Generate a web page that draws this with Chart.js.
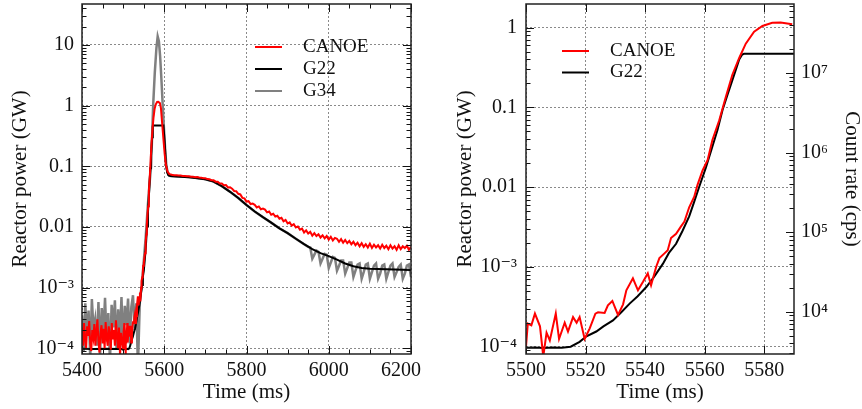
<!DOCTYPE html>
<html>
<head>
<meta charset="utf-8">
<title>Reactor power</title>
<script src="https://cdn.jsdelivr.net/npm/chart.js@4/dist/chart.umd.min.js"></script>
<style>
  html, body { margin: 0; padding: 0; background: #fff; }
  #wrap { position: relative; width: 862px; height: 409px; }
  canvas { position: absolute; top: 0; }
</style>
</head>
<body>
<div id="wrap">
  <canvas id="leftChart" width="430" height="409" style="left:0"></canvas>
  <canvas id="rightChart" width="432" height="409" style="left:430px"></canvas>
</div>
<script>
// ---- data (time in ms, power in GW) ----

// CANOE before the rise, 2.5 ms spacing from 5400
const canoeEarlyStart = 5400, canoeEarlyStep = 2.5;
const canoeEarlyP = [2.2e-4, 1.1e-4, 2.6e-4, 1.4e-4, 1.0e-4, 2.3e-4, 1.6e-4, 2.8e-4, 1.2e-4, 9e-5,
  2.0e-4, 1.5e-4, 2.5e-4, 1.1e-4, 1.9e-4, 3.0e-4, 1.3e-4, 8.5e-5, 1.8e-4, 2.4e-4,
  1.2e-4, 2.1e-4, 1.0e-4, 2.7e-4, 1.5e-4, 1.1e-4, 2.3e-4, 1.7e-4, 9.5e-5, 2.6e-4,
  1.4e-4, 2.0e-4, 1.1e-4, 2.9e-4, 1.6e-4, 1.0e-4, 2.2e-4, 7.5e-5, 1.8e-4, 1.3e-4];

// CANOE around the rise (right panel uses these too)
const canoeRiseT = [5500.0, 5500.6, 5501.8, 5503.0, 5504.7, 5505.8, 5506.9, 5508.0, 5510.0, 5511.1,
  5513.0, 5514.1, 5515.8, 5517.0, 5518.0, 5519.7, 5521.4, 5523.3, 5524.2, 5526.4,
  5527.5, 5529.0, 5530.9, 5532.6, 5533.7, 5535.9, 5537.6, 5539.3, 5540.9, 5542.0,
  5543.7, 5544.8, 5546.5, 5547.6, 5548.7, 5550.4, 5552.0, 5553.2, 5554.8, 5556.5,
  5557.6, 5559.3, 5561.0, 5562.6, 5564.9, 5567.1, 5569.3, 5571.6, 5573.8, 5576.6,
  5579.4, 5582.7, 5585.5, 5589.4];
const canoeRiseP = [1.0e-4, 1.95e-4, 1.85e-4, 2.6e-4, 1.8e-4, 7.5e-5, 1.5e-4, 1.2e-4, 2.6e-4, 1.25e-4,
  2.0e-4, 1.55e-4, 2.35e-4, 2.0e-4, 2.35e-4, 1.25e-4, 1.7e-4, 2.6e-4, 2.7e-4, 2.65e-4,
  3.3e-4, 3.75e-4, 2.5e-4, 3.4e-4, 5.1e-4, 7.2e-4, 5.1e-4, 6.5e-4, 8.3e-4, 5.9e-4,
  1.0e-3, 1.29e-3, 1.48e-3, 1.62e-3, 2.3e-3, 2.6e-3, 3.2e-3, 3.7e-3, 5.6e-3, 7.6e-3,
  0.0107, 0.0162, 0.0219, 0.039, 0.069, 0.135, 0.257, 0.417, 0.63, 0.89,
  1.05, 1.15, 1.16, 1.10];

const canoeFallT = [5592, 5595, 5598, 5601, 5604, 5608, 5612, 5616];
const canoeFallP = [0.9, 0.5, 0.28, 0.16, 0.105, 0.082, 0.075, 0.073];

// CANOE tail, 5 ms spacing from 5620
const canoeTailStart = 5620, canoeTailStep = 5;
const canoeTailP = [
  0.0722, 0.0713, 0.0711, 0.0703, 0.0704, 0.0695, 0.0694, 0.0684, 0.0683, 0.0675,
  0.0674, 0.0663, 0.0664, 0.0652, 0.0650, 0.0636, 0.0634, 0.0616, 0.0611, 0.0590,
  0.0588, 0.0558, 0.0556, 0.0519, 0.0522, 0.0488, 0.0490, 0.0447, 0.0451, 0.0428,
  0.0392, 0.0388, 0.0352, 0.0344, 0.0302, 0.0296, 0.0262, 0.0266, 0.0239, 0.0243,
  0.0232, 0.0210, 0.0218, 0.0196, 0.0201, 0.0193, 0.0174, 0.0180, 0.0159, 0.0165,
  0.0148, 0.0153, 0.0137, 0.0142, 0.0124, 0.0131, 0.0114, 0.0119, 0.0105, 0.0111,
  0.0098, 0.0102, 0.0090, 0.0094, 0.0081, 0.0088, 0.0078, 0.0083, 0.0072, 0.0079,
  0.0071, 0.0076, 0.0067, 0.0073, 0.0065, 0.0071, 0.0062, 0.0069, 0.0060, 0.0066,
  0.0064, 0.0057, 0.0063, 0.0055, 0.0061, 0.0054, 0.0059, 0.0052, 0.0057, 0.0050,
  0.0055, 0.0048, 0.0054, 0.0047, 0.0052, 0.0046, 0.0053, 0.0045, 0.0051, 0.0046,
  0.0050, 0.0044, 0.0051, 0.0045, 0.0049, 0.0043, 0.0050, 0.0044, 0.0048, 0.0042,
  0.0050, 0.0043, 0.0048, 0.0045, 0.0049, 0.0042, 0.0047];

// G22
const g22EarlyT = [5400, 5430, 5460, 5490];
const g22EarlyP = [9.8e-5, 9.7e-5, 9.8e-5, 9.7e-5];
const g22RiseT = [5500, 5503, 5506, 5509, 5512, 5515, 5518, 5520.3, 5523.6, 5526,
  5529.2, 5532, 5534.8, 5537.5, 5540.4, 5543, 5546, 5548, 5550.4, 5552.5,
  5554.8, 5556.5, 5558.2, 5560.4, 5562.6, 5564.3, 5566, 5567.7, 5569.3, 5570.5,
  5571.6, 5572.6, 5573.2, 5590];
const g22RiseP = [9.7e-5, 9.8e-5, 9.6e-5, 9.8e-5, 9.7e-5, 1.0e-4, 1.15e-4, 1.35e-4, 1.55e-4, 1.8e-4,
  2.14e-4, 2.7e-4, 3.47e-4, 4.3e-4, 5.6e-4, 7.5e-4, 1.1e-3, 1.5e-3, 1.95e-3, 2.8e-3,
  4.3e-3, 6.6e-3, 0.0102, 0.0175, 0.0324, 0.052, 0.093, 0.145, 0.22, 0.3,
  0.4, 0.46, 0.47, 0.47];
const g22FallT = [5598, 5601, 5604, 5607, 5610, 5615, 5630, 5660, 5700, 5720,
  5740, 5760, 5780, 5800, 5820, 5840, 5860, 5880, 5900, 5920,
  5940, 5960, 5980, 6000, 6020, 6040, 6060, 6080, 6100, 6140, 6200];
const g22FallP = [0.47, 0.25, 0.11, 0.08, 0.071, 0.069, 0.068, 0.066, 0.061, 0.056,
  0.047, 0.038, 0.030, 0.023, 0.018, 0.0145, 0.0118, 0.0095, 0.0079, 0.0064,
  0.0052, 0.0043, 0.0037, 0.0033, 0.0029, 0.0025, 0.00225, 0.0021, 0.00205, 0.0020, 0.00195];

// G34
const g34EarlyStart = 5400, g34EarlyStep = 4;
const g34EarlyP = [3.5e-4, 9e-5, 5.5e-4, 1.6e-4, 4.2e-4, 7e-5, 6.5e-4, 2.0e-4, 3.0e-4, 1.1e-4,
  5.8e-4, 8e-5, 4.6e-4, 1.8e-4, 6.8e-4, 1.3e-4, 3.8e-4, 6e-5, 5.2e-4, 2.2e-4,
  6.2e-4, 1.0e-4, 4.4e-4, 1.5e-4, 7.0e-4, 9e-5, 5.0e-4, 2.4e-4, 6.6e-4, 1.2e-4,
  4.8e-4, 7.5e-4, 2.0e-4, 5.5e-4, 5e-5];
const g34PeakT = [5541, 5545, 5550, 5555, 5560, 5564, 5568, 5571, 5573, 5577,
  5581, 5584, 5587, 5590, 5593, 5596, 5599, 5602, 5605, 5608, 5612];
const g34PeakP = [7e-4, 1.0e-3, 2.6e-3, 7e-3, 0.022, 0.05, 0.1, 0.4, 1.0, 3.5,
  9.0, 13.8, 11.5, 6.5, 2.8, 1.1, 0.45, 0.2, 0.105, 0.08, 0.07];
const g34MidT = [5615, 5640, 5670, 5700, 5720, 5740, 5760, 5780, 5800, 5820,
  5840, 5860, 5880, 5900, 5920, 5940, 5950];
const g34MidP = [0.069, 0.068, 0.066, 0.061, 0.056, 0.047, 0.038, 0.030, 0.023, 0.018,
  0.0145, 0.0118, 0.0095, 0.0079, 0.0064, 0.0052, 0.0047];
const g34TailStart = 5955, g34TailStep = 5;
const g34TailP = [0.0046, 0.0030, 0.0035, 0.0041, 0.0039, 0.0025, 0.0030, 0.0036, 0.0035, 0.0021,
  0.0026, 0.0032, 0.0031, 0.0019, 0.0023, 0.0028, 0.0028, 0.0017, 0.0021, 0.0026,
  0.0026, 0.0015, 0.0019, 0.0024, 0.0025, 0.0014, 0.0018, 0.0024, 0.0025, 0.0014,
  0.0018, 0.0023, 0.0025, 0.0014, 0.0017, 0.0023, 0.0024, 0.0014, 0.0018, 0.0023,
  0.0025, 0.0015, 0.0018, 0.0022, 0.0024, 0.0014, 0.0017, 0.0023, 0.0024, 0.0015];

// ticks
const leftXTicks = [5400, 5600, 5800, 6000, 6200];
const leftXLabels = ['5400', '5600', '5800', '6000', '6200\u2002\u2002'];
const leftYTicks = [1e-4, 1e-3, 0.01, 0.1, 1, 10];
const leftYLabels = ['10⁻⁴', '10⁻³', '0.01', '0.1', '1', '10'];
const rightXTicks = [5500, 5520, 5540, 5560, 5580];
const rightXLabels = ['5500', '5520', '5540', '5560', '5580'];
const rightYTicks = [1e-4, 1e-3, 0.01, 0.1, 1];
const rightYLabels = ['10⁻⁴', '10⁻³', '0.01', '0.1', '1'];
const countTicks = [1e4, 1e5, 1e6, 1e7];
const countLabels = ['10⁴', '10⁵', '10⁶', '10⁷'];

// ---- helpers ----
function pts(ts, ps) { return ps.map((p, i) => ({ x: ts[i], y: p })); }
function stepPts(start, step, ps) { return ps.map((p, i) => ({ x: start + i * step, y: p })); }

function logMinors(min, max) {
  const out = [];
  for (let e = Math.floor(Math.log10(min)); e <= Math.ceil(Math.log10(max)); e++) {
    for (let m = 2; m <= 9; m++) {
      const v = m * Math.pow(10, e);
      if (v > min && v < max) out.push(v);
    }
  }
  return out;
}
function linMinors(min, max, step) {
  const out = [];
  for (let v = min; v <= max + 1e-9; v += step) out.push(v);
  return out;
}

const FONT = "'Liberation Serif', 'DejaVu Serif', serif";
const INK = '#111';
Chart.defaults.font.family = FONT;
Chart.defaults.color = INK;

// inward ticks on every side + frame
const inTicks = {
  id: 'inTicks',
  afterDatasetsDraw(chart, args, opts) {
    const { ctx, chartArea: a } = chart;
    ctx.save();
    ctx.strokeStyle = INK;
    ctx.lineWidth = 1;
    opts.marks.forEach(m => {
      const sc = chart.scales[m.scale];
      const draw = (vals, len) => vals.forEach(v => {
        const p = Math.round(sc.getPixelForValue(v)) + 0.5;
        m.sides.forEach(side => {
          ctx.beginPath();
          if (side === 'bottom') { ctx.moveTo(p, a.bottom); ctx.lineTo(p, a.bottom - len); }
          if (side === 'top') { ctx.moveTo(p, a.top); ctx.lineTo(p, a.top + len); }
          if (side === 'left') { ctx.moveTo(a.left, p); ctx.lineTo(a.left + len, p); }
          if (side === 'right') { ctx.moveTo(a.right, p); ctx.lineTo(a.right - len, p); }
          ctx.stroke();
        });
      });
      draw(m.major, 8);
      draw(m.minor || [], 4.5);
    });
    ctx.lineWidth = 1.5;
    ctx.strokeStyle = '#222';
    ctx.strokeRect(a.left, a.top, a.right - a.left, a.bottom - a.top);
    ctx.restore();
  }
};

// legend drawn inside the plot
const boxLegend = {
  id: 'boxLegend',
  afterDraw(chart, args, o) {
    const ctx = chart.ctx;
    ctx.save();
    ctx.font = o.font;
    ctx.textBaseline = 'middle';
    ctx.textAlign = 'left';
    chart.data.datasets.forEach((ds, i) => {
      const y = o.y + i * o.gap;
      ctx.strokeStyle = ds.borderColor;
      ctx.lineWidth = 2;
      ctx.beginPath();
      ctx.moveTo(o.x, y);
      ctx.lineTo(o.x + o.len, y);
      ctx.stroke();
      ctx.fillStyle = INK;
      ctx.fillText(ds.label, o.textX, y);
    });
    ctx.restore();
  }
};

function setTicks(values) {
  return scale => { scale.ticks = values.map(v => ({ value: v })); };
}
function labelsFrom(labels) {
  return (value, index) => labels[index];
}
const gridStyle = { color: '#8a8a8a', lineWidth: 1, drawTicks: false };
const borderStyle = { display: false, dash: [2, 2] };

function lineSet(label, data, color, width) {
  return { label, data, borderColor: color, borderWidth: width, pointRadius: 0, tension: 0, fill: false };
}

// ---- left panel ----
const leftCanoe = [].concat(
  stepPts(canoeEarlyStart, canoeEarlyStep, canoeEarlyP),
  pts(canoeRiseT, canoeRiseP),
  pts(canoeFallT, canoeFallP),
  stepPts(canoeTailStart, canoeTailStep, canoeTailP));
const leftG22 = [].concat(pts(g22EarlyT, g22EarlyP), pts(g22RiseT, g22RiseP), pts(g22FallT, g22FallP));
const leftG34 = [].concat(
  stepPts(g34EarlyStart, g34EarlyStep, g34EarlyP),
  pts(g34PeakT, g34PeakP),
  pts(g34MidT, g34MidP),
  stepPts(g34TailStart, g34TailStep, g34TailP));

const LY_MIN = 8.05e-5, LY_MAX = 47.4;

new Chart(document.getElementById('leftChart'), {
  type: 'line',
  data: {
    datasets: [
      lineSet('CANOE', leftCanoe, '#ff0000', 2),
      lineSet('G22', leftG22, '#000000', 2),
      lineSet('G34', leftG34, '#808080', 2.5)
    ]
  },
  options: {
    responsive: false,
    animation: false,
    devicePixelRatio: 1,
    events: [],
    layout: { padding: { top: 4, right: 19, left: 0, bottom: 0 } },
    scales: {
      x: {
        type: 'linear', min: 5400, max: 6200,
        afterBuildTicks: setTicks(leftXTicks),
        afterFit(s) { s.height = 55; s.paddingLeft = 0; s.paddingRight = 0; },
        grid: gridStyle, border: borderStyle,
        ticks: { callback: labelsFrom(leftXLabels), padding: 5, maxRotation: 0, autoSkip: false, font: { size: 20 } },
        title: { display: true, text: 'Time (ms)', font: { size: 21, lineHeight: 1 }, padding: { top: 0, bottom: 6 } }
      },
      y: {
        type: 'logarithmic', min: LY_MIN, max: LY_MAX,
        afterBuildTicks: setTicks(leftYTicks),
        afterFit(s) { s.width = 82; s.paddingTop = 0; s.paddingBottom = 0; },
        grid: gridStyle, border: borderStyle,
        ticks: { callback: labelsFrom(leftYLabels), padding: 8, autoSkip: false, font: { size: 20 } },
        title: { display: true, text: 'Reactor power (GW)', font: { size: 21, lineHeight: 1 }, padding: { top: 10, bottom: 0 } }
      }
    },
    plugins: {
      legend: { display: false },
      tooltip: { enabled: false },
      inTicks: {
        marks: [
          { scale: 'x', sides: ['top', 'bottom'], major: leftXTicks, minor: linMinors(5400, 6200, 50) },
          { scale: 'y', sides: ['left', 'right'], major: leftYTicks, minor: logMinors(LY_MIN, LY_MAX) }
        ]
      },
      boxLegend: { x: 255, len: 27, textX: 303, y: 47, gap: 22, font: '19px ' + FONT }
    }
  },
  plugins: [inTicks, boxLegend]
});

// ---- right panel ----
const RY_MIN = 8.1e-5, RY_MAX = 1.98;
const CR_MIN = 2.95e3, CR_MAX = 7.36e7;

new Chart(document.getElementById('rightChart'), {
  type: 'line',
  data: {
    datasets: [
      lineSet('CANOE', pts(canoeRiseT, canoeRiseP), '#ff0000', 2),
      lineSet('G22', pts(g22RiseT, g22RiseP), '#000000', 2)
    ]
  },
  options: {
    responsive: false,
    animation: false,
    devicePixelRatio: 1,
    events: [],
    layout: { padding: { top: 4, right: 0, left: 0, bottom: 0 } },
    scales: {
      x: {
        type: 'linear', min: 5500, max: 5590,
        afterBuildTicks: setTicks(rightXTicks),
        afterFit(s) { s.height = 55; s.paddingLeft = 0; s.paddingRight = 0; },
        grid: gridStyle, border: borderStyle,
        ticks: { callback: labelsFrom(rightXLabels), padding: 5, maxRotation: 0, autoSkip: false, font: { size: 20 } },
        title: { display: true, text: 'Time (ms)', font: { size: 21, lineHeight: 1 }, padding: { top: 0, bottom: 6 } }
      },
      y: {
        type: 'logarithmic', position: 'left', min: RY_MIN, max: RY_MAX,
        afterBuildTicks: setTicks(rightYTicks),
        afterFit(s) { s.width = 96; s.paddingTop = 0; s.paddingBottom = 0; },
        grid: gridStyle, border: borderStyle,
        ticks: { callback: labelsFrom(rightYLabels), padding: 9, autoSkip: false, font: { size: 20 } },
        title: { display: true, text: 'Reactor power (GW)', font: { size: 21, lineHeight: 1 }, padding: { top: 25, bottom: 0 } }
      },
      y2: {
        type: 'logarithmic', position: 'right', min: CR_MIN, max: CR_MAX,
        afterBuildTicks: setTicks(countTicks),
        afterFit(s) { s.width = 68; s.paddingTop = 0; s.paddingBottom = 0; },
        grid: { display: false, drawTicks: false }, border: { display: false },
        ticks: { callback: labelsFrom(countLabels), padding: 7, autoSkip: false, font: { size: 20 } },
        title: { display: true, text: 'Count rate (cps)', font: { size: 21, lineHeight: 1 }, padding: { top: 0, bottom: 0 } }
      }
    },
    plugins: {
      legend: { display: false },
      tooltip: { enabled: false },
      inTicks: {
        marks: [
          { scale: 'x', sides: ['top', 'bottom'], major: rightXTicks },
          { scale: 'y', sides: ['left'], major: rightYTicks, minor: logMinors(RY_MIN, RY_MAX) },
          { scale: 'y2', sides: ['right'], major: countTicks, minor: logMinors(CR_MIN, CR_MAX) }
        ]
      },
      boxLegend: { x: 132, len: 27, textX: 180, y: 51, gap: 21.5, font: '19px ' + FONT }
    }
  },
  plugins: [inTicks, boxLegend]
});
</script>
</body>
</html>
